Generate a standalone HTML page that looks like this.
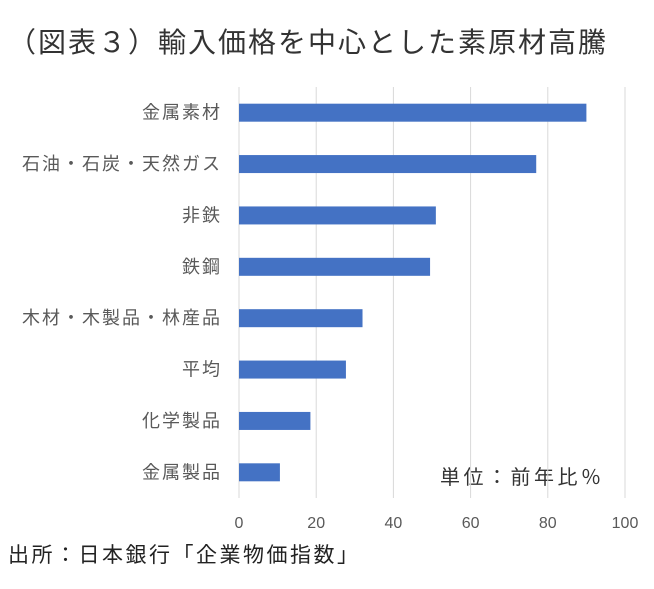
<!DOCTYPE html>
<html><head><meta charset="utf-8"><style>
body{margin:0;background:#fff;font-family:"Liberation Sans","Noto Sans CJK JP",sans-serif;}
svg text{font-family:"Liberation Sans","Noto Sans CJK JP",sans-serif;}
</style></head><body>
<svg id="c" width="654" height="584" xmlns="http://www.w3.org/2000/svg">
<text x="8" y="52" font-size="28" letter-spacing="2" fill="#333">（図表３）輸入価格を中心とした素原材高騰</text>
<text x="8" y="562" font-size="21" letter-spacing="2.5" fill="#222">出所：日本銀行「企業物価指数」</text>
<text x="440" y="484" font-size="20" letter-spacing="3.5" fill="#333">単位：前年比％</text>
</svg>
<script>
const categories=["金属素材","石油・石炭・天然ガス","非鉄","鉄鋼","木材・木製品・林産品","平均","化学製品","金属製品"];
const values=[90,77,51,49.5,32,27.7,18.5,10.6];
const ticks=[0,20,40,60,80,100];
const svg=document.getElementById('c');
const NS="http://www.w3.org/2000/svg";
const x0=239,x1=625,yTop=87,yBot=498;
const xs=v=>x0+(x1-x0)*v/100;
const band=(yBot-yTop)/categories.length;
function mk(t,a){const e=document.createElementNS(NS,t);for(const k in a)e.setAttribute(k,a[k]);svg.appendChild(e);return e;}
ticks.forEach(t=>{
 const l=mk('line',{x1:xs(t),x2:xs(t),y1:yTop,y2:yBot,stroke:'#d9d9d9','stroke-width':1});
 
 
 const tx=mk('text',{x:xs(t),y:528,'font-size':16,fill:'#595959','text-anchor':'middle'});
 tx.textContent=t;
 
 
});
categories.forEach((c,i)=>{
 const cy=yTop+band*(i+0.5);
 const r=mk('rect',{x:x0,y:cy-9,width:xs(values[i])-x0,height:18,fill:'#4472c4'});
 
 
 const tx=mk('text',{x:222,y:cy+6,'font-size':18,'letter-spacing':2,fill:'#595959','text-anchor':'end'});
 tx.textContent=c;
 
 
});
</script>
</body></html>
